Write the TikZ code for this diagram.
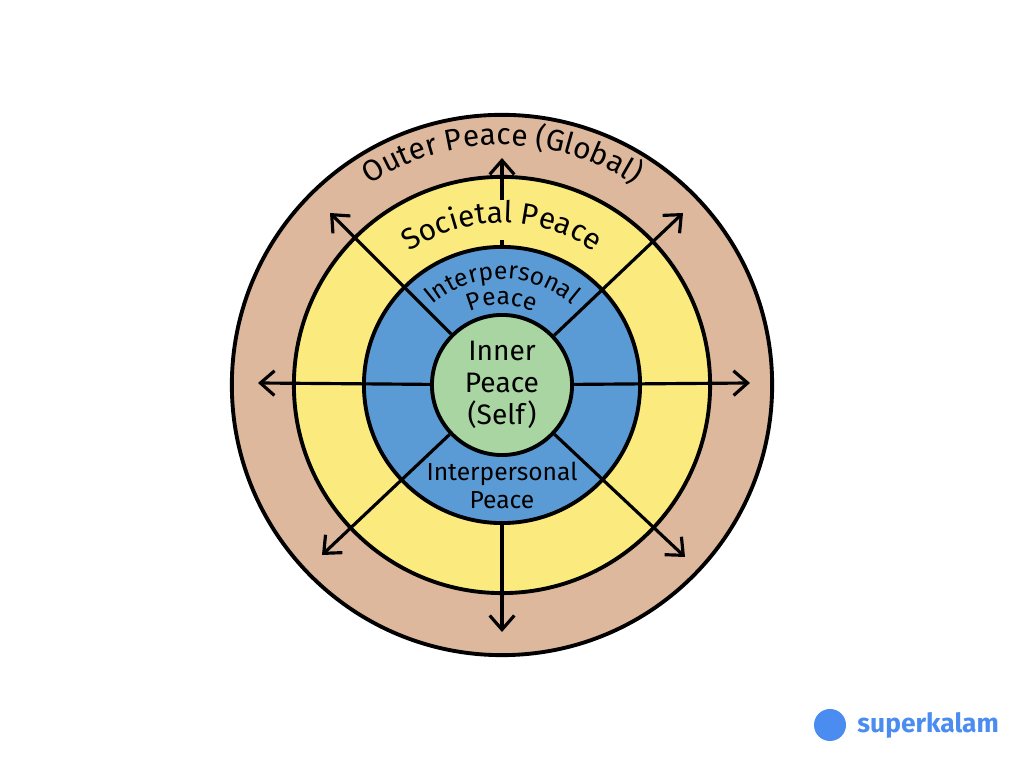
\documentclass[tikz,border=0pt]{standalone}
\usepackage{fontspec}
\setmainfont{Fira Sans}
\usetikzlibrary{decorations.text,arrows.meta}
\definecolor{brownr}{HTML}{DDB89C}
\definecolor{yellowr}{HTML}{FBEB7E}
\definecolor{bluer}{HTML}{5B9BD5}
\definecolor{greenr}{HTML}{A8D5A2}
\definecolor{logo}{HTML}{4A8CF0}
\begin{document}
\begin{tikzpicture}[x=0.01cm,y=-0.01cm,
  ring/.style={draw=black,line width=1.1pt},
  arr/.style={-{Straight Barb[length=4pt,width=7pt]},line width=0.9pt},
  lbl/.style={align=center}]
\useasboundingbox (0,0) rectangle (1024,768);
\coordinate (c) at (502,385);
\node[ring,circle,fill=brownr,minimum size=5.4cm,inner sep=0] (outer) at (c) {};
\node[ring,circle,fill=yellowr,minimum size=4.16cm,inner sep=0] (soc) at (c) {};
\node[ring,circle,fill=bluer,minimum size=2.76cm,inner sep=0] (inter) at (c) {};
\node[ring,circle,fill=greenr,minimum size=1.4cm,inner sep=0] (inner) at (c) {};
\coordinate (aU) at (502,158); \coordinate (aD) at (502,632);
\coordinate (aL) at (258,383); \coordinate (aR) at (750,383);
\coordinate (aUL) at (330,213); \coordinate (aUR) at (683,213);
\coordinate (aDL) at (322,555); \coordinate (aDR) at (685,557);
\draw[arr] (inter.north) -- (aU);
\draw[arr] (inter.south) -- (aD);
\foreach \t in {aL,aR,aUL,aUR,aDL,aDR} \draw[arr] (inner) -- (\t);
\node[lbl,font=\fontsize{8}{9.2}\selectfont] (innerlbl) at (c) {Inner\\Peace\\(Self)};
\node[lbl,inner sep=1pt,font=\fontsize{7}{8}\selectfont] (botlbl) at (502,485) {Interpersonal\\Peace};
\fill[yellowr] (470,200) rectangle (534,240);
\begin{scope}[shift={(c)},x=0.01cm,y=0.01cm]
\path[decorate,decoration={text along path,text align=center,text={|\fontsize{8.5}{10}\selectfont|Outer Peace (Global)}}]
  (145:240) arc[start angle=145,end angle=35,radius=240];
\path[decorate,decoration={text along path,text align=center,text={|\fontsize{8.5}{10}\selectfont|Societal Peace}}]
  (145:162) arc[start angle=145,end angle=35,radius=162];
\path[decorate,decoration={text along path,text align=center,text={|\fontsize{7}{8}\selectfont|Interpersonal}}]
  (160:106) arc[start angle=160,end angle=20,radius=106];
\path[decorate,decoration={text along path,text align=center,text={|\fontsize{7}{8}\selectfont|Peace}}]
  (140:80) arc[start angle=140,end angle=40,radius=80];
\end{scope}
\node[circle,fill=logo,minimum size=0.32cm,inner sep=0] (logoicon) at (830,725) {};
\node[anchor=west,text=logo,font=\bfseries\fontsize{7.5}{9}\selectfont] (logotext) at (845,725) {superkalam};
\end{tikzpicture}
\end{document}
